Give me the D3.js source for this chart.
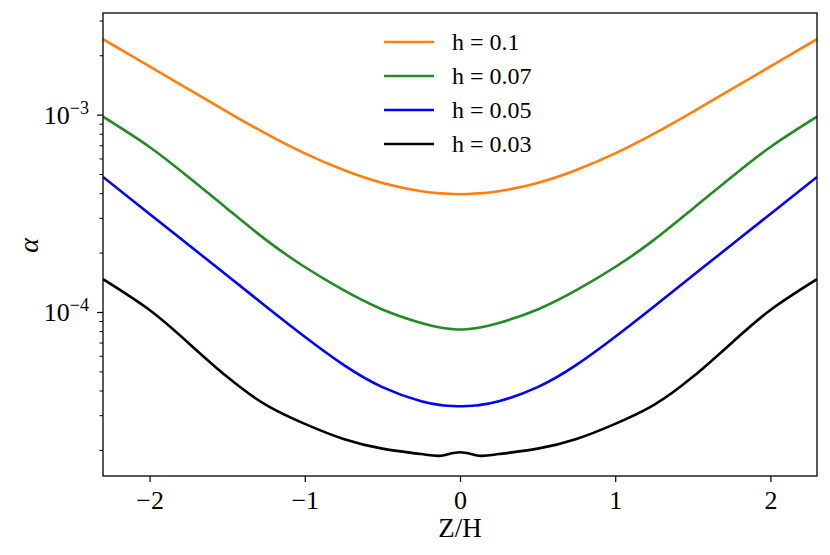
<!DOCTYPE html>
<html>
<head>
<meta charset="utf-8">
<script src="https://cdn.jsdelivr.net/npm/d3@7"></script>
<style>
  body { margin: 0; background: #fff; }
  svg text { font-family: "Liberation Serif", "DejaVu Serif", serif; }
</style>
</head>
<body>
<div id="chart"></div>
<script>
// Z/H positions shared by all curves
const zValues = [-2.3, -2.0, -1.75, -1.5, -1.25, -1.0, -0.75, -0.5, -0.25, -0.12, 0,
                 0.12, 0.25, 0.5, 0.75, 1.0, 1.25, 1.5, 1.75, 2.0, 2.3];

// alpha for each h
const alphaH010 = [2.413e-3, 1.755e-3, 1.348e-3, 1.034e-3, 8.01e-4, 6.36e-4, 5.24e-4, 4.51e-4, 4.09e-4, 3.99e-4, 3.954e-4,
                   3.99e-4, 4.09e-4, 4.51e-4, 5.24e-4, 6.36e-4, 8.01e-4, 1.034e-3, 1.348e-3, 1.755e-3, 2.413e-3];
const alphaH007 = [9.77e-4, 6.86e-4, 4.83e-4, 3.34e-4, 2.32e-4, 1.69e-4, 1.29e-4, 1.03e-4, 8.79e-5, 8.32e-5, 8.15e-5,
                   8.32e-5, 8.79e-5, 1.03e-4, 1.29e-4, 1.69e-4, 2.32e-4, 3.34e-4, 4.83e-4, 6.86e-4, 9.77e-4];
const alphaH005 = [4.835e-4, 3.141e-4, 2.193e-4, 1.529e-4, 1.067e-4, 7.49e-5, 5.395e-5, 4.163e-5, 3.524e-5, 3.373e-5, 3.327e-5,
                   3.373e-5, 3.524e-5, 4.163e-5, 5.395e-5, 7.49e-5, 1.067e-4, 1.529e-4, 2.193e-4, 3.141e-4, 4.835e-4];
const alphaH003 = [1.466e-4, 1.023e-4, 6.97e-5, 4.69e-5, 3.38e-5, 2.71e-5, 2.27e-5, 2.03e-5, 1.905e-5, 1.87e-5, 1.945e-5,
                   1.87e-5, 1.905e-5, 2.03e-5, 2.27e-5, 2.71e-5, 3.38e-5, 4.69e-5, 6.97e-5, 1.023e-4, 1.466e-4];

const seriesLabels = ["h = 0.1", "h = 0.07", "h = 0.05", "h = 0.03"];
const seriesColors = ["#ff7f0e", "#228b22", "#0000ff", "#000000"];
const seriesValues = [alphaH010, alphaH007, alphaH005, alphaH003];

const xTicks = [-2, -1, 0, 1, 2];
const yMajorTicks = [1e-4, 1e-3];

const serif = "Liberation Serif, DejaVu Serif, serif";
const width = 830, height = 555;
const margin = { top: 13, right: 13, bottom: 79, left: 103 };
const innerW = width - margin.left - margin.right;
const innerH = height - margin.top - margin.bottom;

const svg = d3.select("#chart").append("svg")
  .attr("width", width)
  .attr("height", height);

const g = svg.append("g")
  .attr("transform", `translate(${margin.left},${margin.top})`);

const x = d3.scaleLinear().domain([-2.3, 2.3]).range([0, innerW]);
const y = d3.scaleLog().domain([1.475e-5, 3.275e-3]).range([innerH, 0]);

// curves (natural spline keeps the bends soft)
const line = d3.line()
  .x((d) => x(d[0]))
  .y((d) => y(d[1]))
  .curve(d3.curveNatural);

g.append("defs").append("clipPath").attr("id", "clip")
  .append("rect").attr("width", innerW).attr("height", innerH);

seriesValues.forEach((vals, i) => {
  g.append("path")
    .datum(zValues.map((z, j) => [z, vals[j]]))
    .attr("clip-path", "url(#clip)")
    .attr("d", line)
    .attr("fill", "none")
    .attr("stroke", seriesColors[i])
    .attr("stroke-width", 2.6)
    .attr("stroke-linejoin", "round");
});

// x axis
const xAxis = g.append("g")
  .attr("transform", `translate(0,${innerH})`)
  .call(d3.axisBottom(x).tickValues(xTicks).tickSize(6).tickPadding(4)
    .tickFormat((d) => d < 0 ? "\u2212" + Math.abs(d) : d));
xAxis.attr("font-family", serif).attr("font-size", 26);
xAxis.select(".domain").remove();
xAxis.selectAll("line").attr("stroke", "#000").attr("stroke-width", 1.2);
xAxis.selectAll("text").attr("fill", "#000").attr("dy", "0.9em");

// y axis: minor ticks
const minorTicks = y.ticks().filter((t) => !yMajorTicks.includes(t));
const yMinor = g.append("g")
  .call(d3.axisLeft(y).tickValues(minorTicks).tickSize(3.5).tickFormat(""));
yMinor.select(".domain").remove();
yMinor.selectAll("line").attr("stroke", "#000").attr("stroke-width", 1);

const yMajor = g.append("g")
  .call(d3.axisLeft(y).tickValues(yMajorTicks).tickSize(6).tickFormat(""));
yMajor.select(".domain").remove();
yMajor.selectAll("line").attr("stroke", "#000").attr("stroke-width", 1.2);

// y tick labels as 10^n
yMajorTicks.forEach((t) => {
  const label = g.append("text")
    .attr("x", -14)
    .attr("y", y(t) + 9.5)
    .attr("text-anchor", "end")
    .attr("fill", "#000")
    .attr("font-family", serif)
    .attr("font-size", 26);
  label.append("tspan").text("10");
  label.append("tspan")
    .attr("dy", -10)
    .attr("font-size", 18)
    .text("\u2212" + Math.abs(Math.round(Math.log10(t))));
});

// frame
g.append("rect")
  .attr("width", innerW)
  .attr("height", innerH)
  .attr("fill", "none")
  .attr("stroke", "#000")
  .attr("stroke-width", 1.3);

// axis labels
svg.append("text")
  .attr("x", margin.left + x(0))
  .attr("y", 537)
  .attr("text-anchor", "middle")
  .attr("font-family", serif)
  .attr("font-size", 27)
  .attr("fill", "#000")
  .text("Z/H");

svg.append("text")
  .attr("transform", `translate(38,${margin.top + innerH / 2 + 1}) rotate(-90)`)
  .attr("text-anchor", "middle")
  .attr("font-family", serif)
  .attr("font-size", 28)
  .attr("font-style", "italic")
  .attr("fill", "#000")
  .text("\u03b1");

// legend
const legend = svg.append("g").attr("class", "legend")
  .attr("transform", "translate(384,42)");

seriesLabels.forEach((lab, i) => {
  const row = legend.append("g").attr("transform", `translate(0,${i * 34})`);
  row.append("line")
    .attr("x1", 0).attr("x2", 50)
    .attr("stroke", seriesColors[i])
    .attr("stroke-width", 2.6);
  row.append("text")
    .attr("x", 68)
    .attr("y", 8)
    .attr("font-family", serif)
    .attr("font-size", 24)
    .attr("fill", "#000")
    .text(lab);
});
</script>
</body>
</html>
